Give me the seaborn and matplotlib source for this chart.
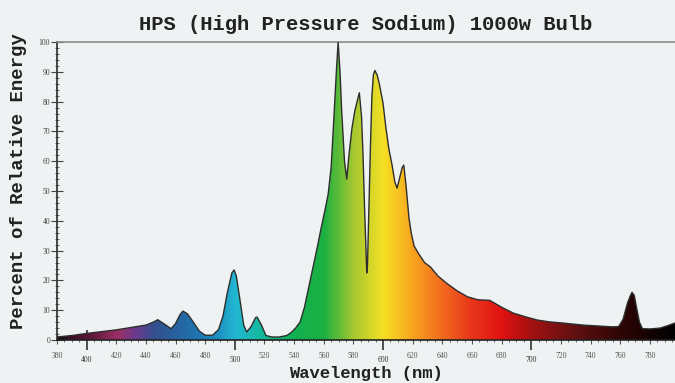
import matplotlib
matplotlib.use("Agg")
import matplotlib.pyplot as plt
import seaborn as sns
import numpy as np
from matplotlib.colors import LinearSegmentedColormap
from matplotlib.ticker import FixedLocator, MultipleLocator

# spectrum
wavelength = [380, 390, 400, 410, 420, 430, 440, 445, 448, 452, 457, 460, 463, 465, 468, 472,
              476, 480, 485, 489, 492, 495, 498, 499.5, 501, 503, 506, 508, 511, 514, 515, 518,
              521, 525, 530, 535, 538, 541, 544, 547, 550, 553, 556, 558, 561, 563, 565, 567,
              568.5, 569.7, 571, 572, 574, 575.5, 577, 579, 581, 583, 584, 585.5, 586.5, 587.5,
              588.5, 589, 589.5, 590.5, 591.5, 592.5, 593.5, 594.5, 596, 597.5, 600, 602, 604,
              606, 608, 609.5, 611, 613, 614, 615.5, 617.5, 619, 621, 624, 628, 632, 637, 643,
              650, 657, 664, 672, 680, 688, 696, 704, 712, 721, 735, 745, 755, 759, 762, 765,
              767, 768, 769.5, 771, 773, 775, 780, 787, 792, 797]
energy = [1.0, 1.5, 2.2, 2.8, 3.4, 4.2, 5.0, 6.0, 6.8, 5.5, 3.8, 5.5, 8.5, 9.7, 8.8, 6.0,
          3.0, 1.6, 1.6, 3.5, 8.0, 16.0, 22.5, 23.5, 21.5, 15.0, 5.0, 2.7, 4.5, 7.5, 7.7, 5.0,
          1.5, 1.0, 1.0, 1.5, 2.5, 4.0, 6.0, 11.0, 18.0, 25.0, 32.0, 37.0, 44.0, 49.0, 58.0, 76.0,
          90.0, 100.0, 90.0, 78.0, 60.0, 54.0, 62.0, 71.0, 77.0, 81.0, 83.0, 75.0, 62.0, 45.0,
          30.0, 22.5, 25.0, 45.0, 65.0, 82.0, 89.0, 90.5, 89.0, 86.0, 79.5, 71.0, 64.0,
          59.0, 53.0, 51.0, 54.0, 58.0, 58.7, 52.0, 41.0, 36.0, 31.5, 29.0, 26.0, 24.5, 21.5, 19.0,
          16.5, 14.5, 13.5, 13.3, 11.0, 9.0, 7.8, 6.7, 6.1, 5.7, 5.0, 4.7, 4.4, 4.5, 7.0, 12.5,
          15.0, 16.0, 15.0, 11.0, 6.0, 3.8, 3.7, 4.0, 4.8, 5.7]

# visible-spectrum colour stops (nm, colour)
stop_nm = [380, 400, 420, 432, 445, 465, 485, 500, 520, 540, 560, 580, 600, 620, 640, 660,
           680, 700, 730, 760, 797]
stop_col = ["#1c0c14", "#5a1636", "#9a2e66", "#6c3a8c", "#33508f", "#2468a6", "#1b86bc",
            "#22b8d2", "#12b894", "#10b050", "#1cb040", "#a6c830", "#f6e024", "#f8a41e",
            "#f26a1e", "#e8361a", "#e01212", "#a41010", "#601010", "#300606", "#000000"]

xmin, xmax = 380, 797

sns.set_theme(style="ticks")
plt.rcParams["font.family"] = ["Liberation Mono", "DejaVu Sans Mono"]

bg = "#eef2f3"
fig = plt.figure(figsize=(6.75, 3.83), dpi=100, facecolor=bg)
ax = fig.add_axes([0.0844, 0.1123, 1 - 0.0844, 0.890 - 0.1123])
ax.set_facecolor(bg)

# gradient fill clipped to the spectrum area
cmap = LinearSegmentedColormap.from_list(
    "spectrum", [((n - xmin) / (xmax - xmin), c) for n, c in zip(stop_nm, stop_col)])
poly = ax.fill_between(wavelength, energy, 0, facecolor="none", edgecolor="none")
grad = np.linspace(0, 1, 800).reshape(1, -1)
im = ax.imshow(grad, extent=[xmin, xmax, 0, 100], aspect="auto", cmap=cmap,
               origin="lower", zorder=1)
im.set_clip_path(poly.get_paths()[0], transform=ax.transData)

sns.lineplot(x=wavelength, y=energy, color="#2e2e2e", linewidth=1.0, ax=ax, zorder=3)

ax.set_xlim(xmin, xmax)
ax.set_ylim(0, 100)

# spines
ax.spines["right"].set_visible(False)
ax.spines["top"].set_color("#8a8a8a")
ax.spines["top"].set_linewidth(1.2)
ax.spines["left"].set_color("#333333")
ax.spines["bottom"].set_color("#222222")
ax.spines["bottom"].set_linewidth(1.2)

# y ticks
ax.yaxis.set_major_locator(MultipleLocator(10))
ax.yaxis.set_minor_locator(MultipleLocator(2))
ax.tick_params(axis="y", which="major", direction="inout", length=8, width=0.8,
               labelsize=5.5, pad=1, colors="#444444")
ax.tick_params(axis="y", which="minor", direction="inout", length=3, width=0.6,
               colors="#444444")

# x ticks: 20 nm labels, 100 nm labels set lower with long ticks
small_ticks = [t for t in range(380, 800, 20) if t % 100 != 0]
ax.xaxis.set_major_locator(FixedLocator(small_ticks))
ax.xaxis.set_minor_locator(MultipleLocator(5))
ax.tick_params(axis="x", which="major", direction="inout", length=6, width=0.8,
               labelsize=5.5, pad=6, colors="#555555")
ax.tick_params(axis="x", which="minor", direction="inout", length=3, width=0.6,
               colors="#555555")
for lab in ax.get_xticklabels() + ax.get_yticklabels():
    lab.set_family("Liberation Serif")

sec = ax.secondary_xaxis("bottom")
sec.set_xticks([400, 500, 600, 700])
sec.tick_params(axis="x", direction="inout", length=14, width=1.2, labelsize=5.5, pad=4.5,
                colors="#333333")
sec.spines["bottom"].set_visible(False)
for lab in sec.get_xticklabels():
    lab.set_family("Liberation Serif")

ax.set_title("HPS (High Pressure Sodium) 1000w Bulb", fontsize=14.8, fontweight="bold",
             color="#222222", pad=9)
ax.set_xlabel("Wavelength (nm)", fontsize=12.3, fontweight="bold", color="#222222")
ax.xaxis.set_label_coords(0.5, -0.087)
ax.set_ylabel("Percent of Relative Energy", fontsize=13.7, fontweight="bold",
              color="#222222")
ax.yaxis.set_label_coords(-0.048, 0.535)

fig.savefig("out.png", dpi=100, facecolor=bg)
